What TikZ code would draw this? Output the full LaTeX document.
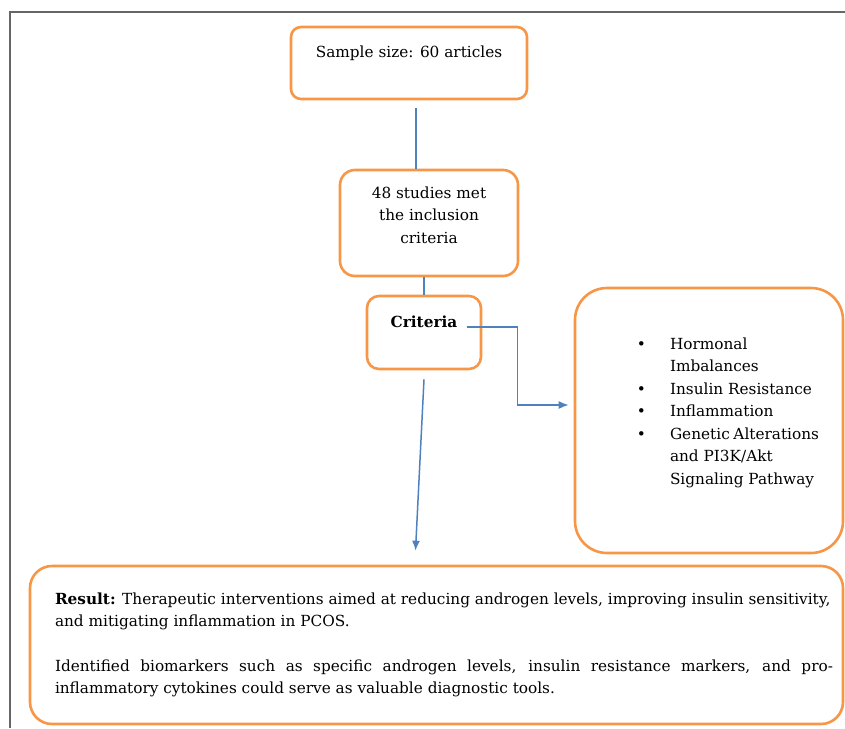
\documentclass[tikz,border=0pt]{standalone}
\usepackage{fontspec}
\setmainfont{DejaVu Serif}
\usepackage{enumitem}
\usetikzlibrary{arrows.meta,positioning}
\definecolor{boxorange}{HTML}{F79646}
\definecolor{linkblue}{HTML}{4F81BD}

\begin{document}
\begin{tikzpicture}[x=1pt,y=-1pt]
\tikzstyle{box}=[rectangle, draw=boxorange, line width=2.6pt, inner sep=0pt,
	font=\fontsize{15.3}{22.5}\selectfont, align=center
]
\tikzstyle{link}=[draw=linkblue, line width=1.5pt]
\tikzstyle{tip}=[-{Latex[length=10pt,width=8pt]}]
\useasboundingbox (0,0) rectangle (845,728);
% page frame
\draw[gray!80!black, line width=1.3pt] (845,12) -- (10,12) -- (10,728);

\node[box,rounded corners=10pt,minimum width=236pt,text height=30pt,text depth=42pt] (sample) at (409,63) {Sample size: 60 articles};
\node[box,rounded corners=15pt,minimum width=178pt,text height=73pt,text depth=33pt] (studies) at (429,223) {48 studies met\\the inclusion\\criteria};
\node[box,rounded corners=12pt,minimum width=114pt,text height=31pt,text depth=42pt] (criteria) at (424,332.5) {\textbf{Criteria}};
\node[box,rounded corners=32pt,minimum width=268pt,minimum height=265pt,align=left] (factors) at (709,420.5) {%
\begin{minipage}{220pt}
\begin{itemize}[leftmargin=71pt,labelsep=24pt,itemsep=0pt,topsep=0pt,parsep=0pt]
\item Hormonal\\Imbalances
\item Insulin Resistance
\item Inflammation
\item Genetic Alterations\\and PI3K/Akt\\Signaling Pathway
\end{itemize}
\vspace*{14pt}
\end{minipage}};
\node[box,rounded corners=22pt,minimum width=813pt,minimum height=158pt,align=left] (result) at (436.5,645) {%
\hspace*{15pt}\begin{minipage}{778pt}
\setlength{\parindent}{0pt}
\textbf{Result:} Therapeutic interventions aimed at reducing androgen levels, improving insulin sensitivity,\\
and mitigating inflammation in PCOS.\par\vspace{22pt}
Identified biomarkers such as specific androgen levels, insulin resistance markers, and pro-\linebreak
inflammatory cytokines could serve as valuable diagnostic tools.
\end{minipage}};

\path[link] ([xshift=7pt,yshift=-8pt]sample.south) edge ([xshift=-13pt]studies.north);
\path[link] (criteria.north) edge (criteria.north |- studies.south);
\draw[link,tip] ([shift={(-15pt,5.5pt)}]criteria.east) -- ++(50pt,0) |- ([shift={(-5pt,15.5pt)}]factors.west);
\draw[link,tip] ([yshift=-9pt]criteria.south) -- ([xshift=-21pt,yshift=14pt]result.north);

\end{tikzpicture}
\end{document}
